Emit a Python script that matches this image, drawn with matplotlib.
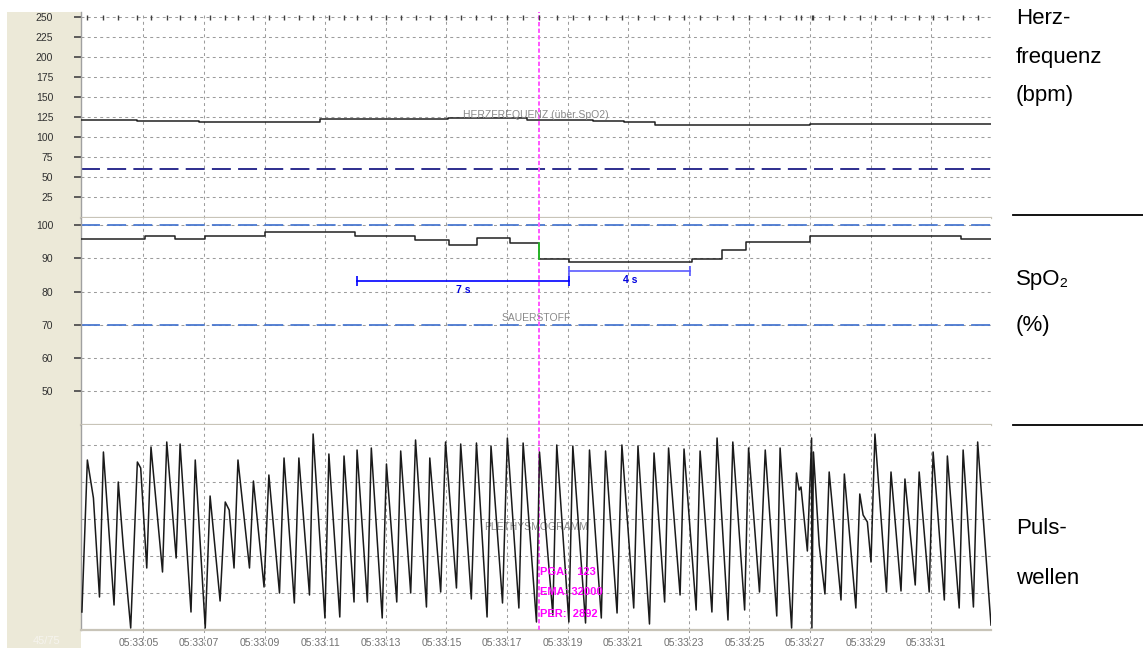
import matplotlib
matplotlib.use("Agg")
import matplotlib.pyplot as plt
from matplotlib.patches import Rectangle
from matplotlib.lines import Line2D
from matplotlib.transforms import ScaledTranslation

plt.rcParams['font.family'] = ['Liberation Sans', 'DejaVu Sans']

# time axis: seconds after 05:33:00
x_range = (2.94, 32.97)
x_ticks = [5, 7, 9, 11, 13, 15, 17, 19, 21, 23, 25, 27, 29, 31]
x_labels = ['05:33:05', '05:33:07', '05:33:09', '05:33:11', '05:33:13', '05:33:15',
            '05:33:17', '05:33:19', '05:33:21', '05:33:23', '05:33:25', '05:33:27',
            '05:33:29', '05:33:31']
cursor_t = 18.05

# heart rate (bpm), step changes
hr_t = [2.94, 4.79, 6.84, 9.67, 10.83, 15.05, 17.66, 19.84, 20.86, 21.88, 27.0, 32.97]
hr_v = [121.4, 120.2, 118.5, 119.5, 122.3, 123.6, 121.4, 120.2, 118.6, 115.2, 116.0, 116.0]
hr_limit = 60
hr_ticks = [25, 50, 75, 100, 125, 150, 175, 200, 225, 250]

# SpO2 (%), step changes
spo2_t = [2.94, 5.06, 6.05, 7.03, 9.0, 11.97, 13.95, 15.1, 16.0, 17.1, 18.05, 19.05,
          23.1, 24.1, 24.9, 27.0, 31.97, 32.97]
spo2_v = [95.8, 96.9, 95.8, 96.8, 98.0, 96.8, 95.6, 94.1, 96.2, 94.7, 89.8, 89.0,
          89.8, 92.5, 95.0, 96.8, 95.9, 95.9]
spo2_limits = [100, 70]
spo2_ticks = [50, 60, 70, 80, 90, 100]

# desaturation intervals
iv_start = [12.05, 19.05]
iv_end = [19.05, 23.05]
iv_level = [83.2, 86.1]
iv_label = ['7 s', '4 s']
iv_color = ['#0000ff', '#5a5aff']

# plethysmogram (arbitrary units, turning points)
pleth_t = [2.97, 3.15, 3.35, 3.55, 3.68, 4.03, 4.17, 4.34, 4.58, 4.80, 4.91, 5.11, 5.25,
           5.63, 5.77, 6.08, 6.21, 6.57, 6.71, 7.04, 7.20, 7.53, 7.70, 7.83, 7.99, 8.12,
           8.50, 8.63, 8.98, 9.14, 9.49, 9.64, 9.98, 10.13, 10.48,
           10.60, 10.99, 11.12, 11.48, 11.62, 11.95, 12.05, 12.39, 12.52, 12.88, 13.02,
           13.36, 13.49, 13.82, 13.98, 14.34, 14.45, 14.81, 14.97, 15.33, 15.47, 15.82,
           15.99, 16.34, 16.47, 16.85, 17.01, 17.39, 17.53, 17.97,
           18.07, 18.51, 18.64, 19.04, 19.17, 19.59, 19.72, 20.11, 20.25, 20.63, 20.79,
           21.18, 21.32, 21.70, 21.85, 22.20, 22.33, 22.71, 22.84, 23.24, 23.37, 23.76,
           23.93, 24.29, 24.45, 24.84, 24.97, 25.33, 25.52,
           25.90, 26.01, 26.39, 26.55, 26.64, 26.70, 26.91, 27.05, 27.06, 27.11, 27.30,
           27.49, 27.63, 28.02, 28.13, 28.51, 28.64, 28.75, 28.89, 29.01, 29.14, 29.52,
           29.67, 30.00, 30.13, 30.47, 30.60, 30.93, 31.06, 31.43, 31.53, 31.92, 32.05,
           32.39, 32.53, 32.97]
pleth_v = [18, 170, 132, 33, 178, 25, 148, 82, 2, 168, 162, 62, 183,
           58, 188, 72, 186, 18, 170, 2, 134, 29, 128, 120, 62, 170,
           62, 149, 43, 155, 37, 172, 27, 172, 35,
           196, 12, 176, 13, 174, 28, 180, 28, 182, 12, 166,
           28, 179, 37, 190, 23, 172, 38, 188, 42, 186, 31,
           187, 13, 184, 27, 192, 22, 187, 8,
           178, 15, 185, 8, 184, 7, 180, 12, 179, 17, 185,
           22, 184, 6, 177, 28, 182, 35, 181, 20, 179, 18,
           192, 10, 188, 20, 182, 38, 180,
           14, 182, 2, 157, 140, 143, 79, 192, 2, 178, 85,
           36, 158, 30, 156, 22, 136, 115, 108, 68, 196, 38,
           158, 39, 151, 45, 158, 38, 178, 30, 174, 22, 180,
           23, 188, 5]
pleth_grid = [37, 74, 111, 148, 185]

readout = ['PGA:   123', 'EMA: 32000', 'PER:  2892']

# beat marks on the top row = pleth peaks
beats = [pleth_t[i] for i in range(1, len(pleth_t) - 1)
         if pleth_v[i] > pleth_v[i - 1] and pleth_v[i] > pleth_v[i + 1] and pleth_v[i] > 125]

W, H = 1143, 648
fig = plt.figure(figsize=(W / 100, H / 100), dpi=100)
fig.patch.set_facecolor('white')

fig.add_artist(Rectangle((7 / W, 0), 74 / W, 1 - 12 / H, transform=fig.transFigure,
                         facecolor='#ece9d8', edgecolor='none', zorder=-1))

left, width = 81 / W, 910 / W
ax1 = fig.add_axes([left, 1 - 218 / H, width, 206 / H])
ax2 = fig.add_axes([left, 1 - 425 / H, width, 207 / H])
ax3 = fig.add_axes([left, 1 - 630 / H, width, 205 / H])

grid_ls = (0, (2.8, 3.2))
for ax in (ax1, ax2, ax3):
    ax.set_xlim(*x_range)
    for s in ax.spines.values():
        s.set_visible(False)
    ax.spines['left'].set_visible(True)
    ax.spines['left'].set_color('#a0a0a0')
    ax.spines['left'].set_linewidth(1)
    ax.spines['bottom'].set_visible(True)
    ax.spines['bottom'].set_color('#c8c4b8')
    ax.spines['bottom'].set_linewidth(1.6)
    ax.set_xticks(x_ticks)
    ax.tick_params(axis='x', length=0, labelbottom=False)
    ax.tick_params(axis='y', direction='out', length=5, width=1.3, color='#505050',
                   pad=15, labelsize=7.5, labelcolor='#303030')
    ax.grid(True, color='#9c9c9c', linestyle=grid_ls, linewidth=0.75)
    ax.set_axisbelow(True)
    ax.axvline(cursor_t, color='#ff55ff', linestyle=(0, (2.2, 1.2)), linewidth=1.4, zorder=3)

# heart rate
ax1.set_ylim(-1.3, 256.6)
ax1.set_yticks(hr_ticks)
ax1.step(hr_t, hr_v, where='post', color='#202020', linewidth=1.1, zorder=4)
ax1.axhline(hr_limit, color='#1c1c86', linewidth=1.3, linestyle=(0, (10.5, 4)), zorder=2)
ax1.vlines(beats, 246.5, 253, colors='#404040', linewidth=1, zorder=3)
ax1.text(0.5, 127.5, 'HERZFREQUENZ (über SpO2)', transform=ax1.get_yaxis_transform(),
         ha='center', va='center', color='#8a8a8a', fontsize=7.5, zorder=5)

# SpO2
ax2.set_ylim(39.7, 102.2)
ax2.set_yticks(spo2_ticks)
ax2.step(spo2_t, spo2_v, where='post', color='#202020', linewidth=1.1, zorder=4)
k = spo2_t.index(cursor_t)
ax2.plot([cursor_t, cursor_t], [spo2_v[k - 1], spo2_v[k]], color='#22cc22', linewidth=1.2, zorder=5)
for lim in spo2_limits:
    ax2.axhline(lim, color='#4a78d0', linewidth=1.3, linestyle=(0, (10.5, 4)), zorder=2)
for a, b, lev, lab, c in zip(iv_start, iv_end, iv_level, iv_label, iv_color):
    ax2.plot([a, b], [lev, lev], color=c, linewidth=1.2, zorder=5)
    ax2.plot([a, b], [lev, lev], linestyle='none', marker='|', markersize=7.5,
             markeredgewidth=1.2, color=c, zorder=5)
    ax2.text((a + b) / 2, lev - 1.1, lab, ha='center', va='top', color='#0000e0',
             fontsize=7.5, fontweight='bold', zorder=5)
ax2.text(0.5, 71.9, 'SAUERSTOFF', transform=ax2.get_yaxis_transform(),
         ha='center', va='center', color='#8a8a8a', fontsize=7.5, zorder=5)

# plethysmogram
ax3.set_ylim(0, 205)
ax3.set_yticks(pleth_grid)
ax3.tick_params(axis='y', length=0, labelleft=False)
ax3.plot(pleth_t, pleth_v, color='#1a1a1a', linewidth=1.1, zorder=4)
ax3.text(0.5, 103.3, 'PLETHYSMOGRAMM', transform=ax3.get_yaxis_transform(),
         ha='center', va='center', color='#8a8a8a', fontsize=7.5, zorder=3)
for line, yy in zip(readout, [0.284, 0.184, 0.078]):
    ax3.text(cursor_t + 0.04, yy, line, transform=ax3.get_xaxis_transform(),
             ha='left', va='center', color='#ff00ff', fontsize=8,
             fontweight='bold', zorder=6)

ax3.tick_params(axis='x', labelbottom=True, pad=6, labelsize=7.5, labelcolor='#707070')
ax3.set_xticklabels(x_labels)
shift = ScaledTranslation(-5 / 100, 0, fig.dpi_scale_trans)
for lab in ax3.get_xticklabels():
    lab.set_transform(lab.get_transform() + shift)
ax3.vlines(x_ticks, -0.075, 0, transform=ax3.get_xaxis_transform(), clip_on=False,
           colors='#a0a0a0', linestyles=grid_ls, linewidth=0.75)

fig.text(47 / W, 1 - 641.5 / H, '45/75', ha='center', va='center', color='#f6f4ee',
         fontsize=8)

# right-hand captions
for txt, yy in [('Herz-', 18), ('frequenz', 57), ('(bpm)', 95), ('SpO₂', 279),
                ('(%)', 325), ('Puls-', 528), ('wellen', 578)]:
    fig.text(1016 / W, 1 - yy / H, txt, ha='left', va='center', fontsize=16, color='black')
for yy in (215, 425):
    fig.add_artist(Line2D([1013 / W, 1], [1 - yy / H] * 2, color='black', linewidth=1.3,
                          transform=fig.transFigure))

fig.savefig('out.png', dpi=100)
